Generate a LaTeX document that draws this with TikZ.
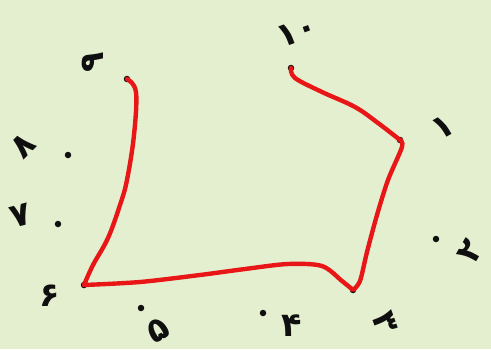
\documentclass[tikz,border=0pt]{standalone}
\usepackage{fontspec}
\usepackage{tikz}
\usetikzlibrary{positioning}
\newfontfamily\digitfont[Script=Arabic]{DejaVu Sans}
\definecolor{paper}{RGB}{228,239,208}
\definecolor{inkred}{RGB}{232,22,22}
\definecolor{inkblack}{RGB}{15,15,15}

\begin{document}
\begin{tikzpicture}[
    x=0.02cm, y=-0.02cm,
    dot/.style={circle, fill=inkblack, inner sep=0pt, minimum size=0.13cm},
    num/.style={text=inkblack, font=\digitfont\bfseries\fontsize{19}{19}\selectfont, inner sep=0pt},
    trail/.style={draw=inkred, line width=2.5pt, line join=round, line cap=round},
]

% Paper
\fill[paper] (0,0) rectangle (491,349);

% Dots
\node[dot] (d10) at (291,68) {};
\node[dot] (d1) at (400,140) {};
\node[dot] (d2) at (436,239) {};
\node[dot] (d3) at (353,290) {};
\node[dot] (d4) at (263,313) {};
\node[dot] (d5) at (141,308) {};
\node[dot] (d6) at (84,285) {};
\node[dot] (d7) at (58,224) {};
\node[dot] (d8) at (68,155) {};
\node[dot] (d9) at (127,79) {};

% Labels
\node[num, rotate=20] (l10) at (297,32) {۱۰};
\node[num, rotate=30] (l1) at (443,127) {۱};
\node[num, rotate=60] (l2) at (470,251) {۲};
\node[num, rotate=-70] (l3) at (385,322) {۳};
\node[num] (l4) at (292,326) {۴};
\node[num, rotate=30] (l5) at (158,330) {۵};
\node[num] (l6) at (50,296) {۶};
\node[num, rotate=15] (l7) at (21,216) {۷};
\node[num, rotate=45] (l8) at (23,146) {۸};
\node[num, rotate=90] (l9) at (93,62) {۹};

% Red route
\draw[trail] plot[smooth, tension=0.6] coordinates {(d9.center) (136,92) (134,135) (127,180) (120,205) (108,238) (93,265) (d6.center)}
    -- plot[smooth, tension=0.5] coordinates {(d6.center) (140,282) (200,275) (245,269) (288,264) (322,266) (342,281) (d3.center)}
    -- plot[smooth, tension=0.5] coordinates {(d3.center) (360,281) (367,252) (377,215) (388,180) (402,147) (d1.center)}
    -- plot[smooth, tension=0.6] coordinates {(d1.center) (378,123) (355,107) (322,92) (295,78) (d10.center)};

\end{tikzpicture}
\end{document}
